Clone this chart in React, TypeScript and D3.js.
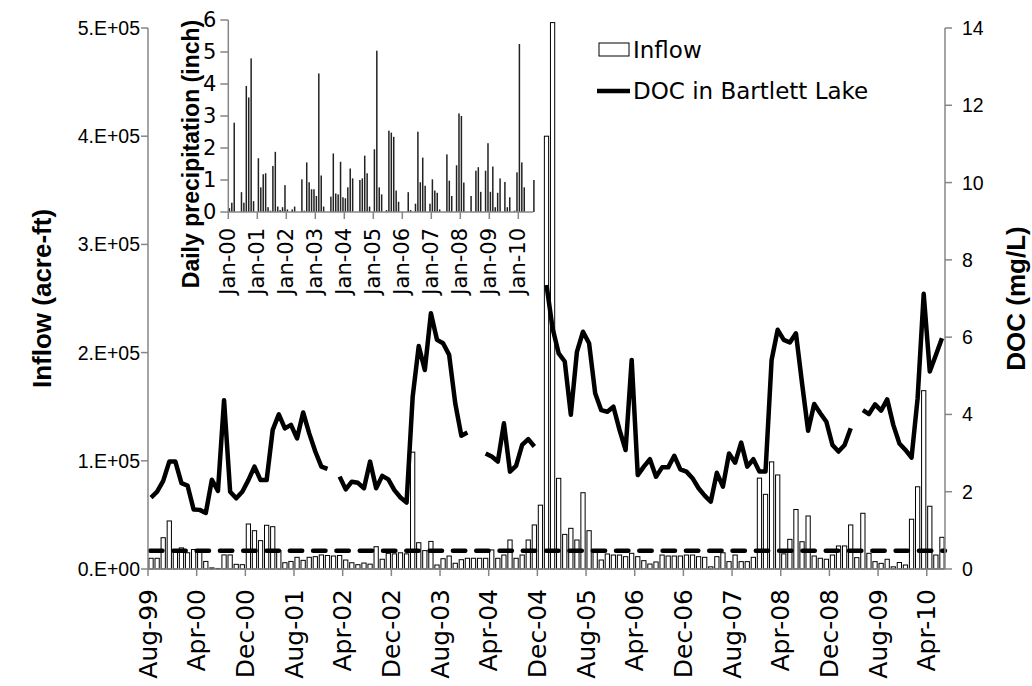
import React from "react";
import * as d3 from "d3";

const W = 1032;
const H = 686;

// ---------- main chart data (monthly, Aug-99 .. Jun-10) ----------
const monthStart = new Date(1999, 7, 1);
const monthEnd = new Date(2010, 6, 1);
const months = d3.timeMonth.range(monthStart, monthEnd);

const xTickLabels = [
  "Aug-99", "Apr-00", "Dec-00", "Aug-01", "Apr-02", "Dec-02", "Aug-03", "Apr-04",
  "Dec-04", "Aug-05", "Apr-06", "Dec-06", "Aug-07", "Apr-08", "Dec-08", "Aug-09", "Apr-10",
];

// Monthly inflow (acre-ft)
const inflow = [
  9900, 9900, 28900, 44400, 16000, 19500, 15000, 18000, 17000, 7000,
  1000, 500, 13000, 13000, 4300, 4000, 41600, 35400, 26200, 40400,
  39100, 17000, 5800, 7000, 10800, 8000, 10800, 11400, 13000, 12500,
  12000, 12500, 8300, 5800, 4000, 5500, 4500, 20600, 9000, 14500,
  14000, 15000, 14000, 108000, 24300, 17000, 25500, 3700, 9500, 12000,
  5300, 8600, 9900, 9900, 9900, 9900, 17600, 9900, 12900, 26800,
  9900, 12900, 26800, 40700, 59000, 400000, 505000, 83800, 32000, 37600,
  26800, 70500, 35400, 16000, 8300, 13900, 12900, 12900, 11400, 14500,
  11400, 7700, 4600, 6500, 12900, 12000, 12000, 12000, 12900, 12900,
  11400, 10800, 2000, 11400, 15000, 6800, 12900, 6800, 6800, 10800,
  84000, 69000, 99000, 86900, 14000, 27400, 55000, 25200, 49000, 12000,
  9900, 9000, 12900, 21300, 21300, 40700, 10500, 51500, 14500, 6800,
  5200, 9000, 2000, 6000, 3700, 46000, 76000, 164800, 58000, 12900,
  29300,
];

// Monthly DOC in Bartlett Lake (mg/L); null = no sample
const doc = [
  1.85, 2.0, 2.28, 2.78, 2.78, 2.22, 2.16, 1.54, 1.53, 1.45,
  2.31, 2.02, 4.37, 2.0, 1.83, 2.0, 2.3, 2.65, 2.3, 2.3,
  3.6, 4.0, 3.64, 3.73, 3.38, 4.05, 3.51, 3.04, 2.65, 2.59,
  null, 2.39, 2.06, 2.26, 2.23, 2.09, 2.78, 2.09, 2.41, 2.32,
  2.04, 1.85, 1.72, 4.45, 5.77, 5.15, 6.62, 5.93, 5.84, 5.54,
  4.29, 3.45, 3.53, null, null, 2.99, 2.91, 2.78, 3.77, 2.52,
  2.67, 3.21, 3.36, 3.17, null, 7.35, 6.23, 5.58, 5.37, 3.99,
  5.62, 6.14, 5.84, 4.55, 4.11, 4.07, 4.2, 3.6, 3.08, 5.41,
  2.43, 2.65, 2.84, 2.39, 2.63, 2.63, 2.93, 2.58, 2.52, 2.35,
  2.09, 1.9, 1.74, 2.49, 2.13, 2.99, 2.75, 3.27, 2.65, 2.84,
  2.52, 2.52, 5.41, 6.19, 5.93, 5.86, 6.1, 4.81, 3.58, 4.27,
  4.03, 3.81, 3.21, 3.04, 3.21, 3.64, null, 4.11, 4.01, 4.26,
  4.1, 4.39, 3.73, 3.25, 3.08, 2.88, 4.42, 7.12, 5.11, 5.54,
  5.97,
];

const docReference = 0.47; // dashed reference level (mg/L)

const leftTicks = [0, 100000, 200000, 300000, 400000, 500000];
const leftTickLabels = ["0.E+00", "1.E+05", "2.E+05", "3.E+05", "4.E+05", "5.E+05"];
const rightTicks = [0, 2, 4, 6, 8, 10, 12, 14];

// ---------- inset data (monthly, Jan-00 .. Jul-10) ----------
const precipStart = new Date(2000, 0, 1);
const precipEnd = new Date(2010, 7, 1);
const precipMonths = d3.timeMonth.range(precipStart, precipEnd);
const precip = [
  0.12, 0.29, 2.79, 0, 0, 0.62, 0.29, 3.94, 3.58, 4.8,
  0.34, 0, 1.68, 0.77, 1.18, 1.21, 0.15, 0.04, 1.44, 1.88,
  0.17, 0.06, 0.15, 0.84, 0.08, 0, 0.08, 0.17, 0, 0,
  1.02, 0.04, 1.55, 0.93, 0.71, 0.71, 0.5, 4.33, 1.14, 0.17,
  0, 0, 0.48, 1.83, 0.58, 0.55, 1.57, 0.46, 0.43, 0.77,
  1.36, 1.05, 0, 0, 1.0, 1.05, 1.76, 1.21, 0.17, 0,
  1.96, 5.04, 0.77, 0.55, 0, 0.06, 2.54, 2.48, 2.35, 0.67,
  0.32, 0, 0, 0, 0.62, 0.06, 0, 0.26, 2.51, 0.93,
  1.7, 0.82, 0, 0.26, 1.02, 0.67, 0.6, 0.08, 0, 0,
  1.8, 0.98, 0.5, 0, 1.46, 3.08, 3.0, 0.92, 0, 0,
  0.5, 0, 1.29, 1.4, 0.63, 0, 1.29, 2.15, 0.63, 1.42,
  0.15, 0.6, 1.05, 0, 0.94, 0.15, 0.46, 0, 0.04, 1.24,
  5.25, 1.55, 0.77, 0, 0, 0, 1.0,
];
const insetTicks = [0, 1, 2, 3, 4, 5, 6];
const insetTickLabels = ["Jan-00", "Jan-01", "Jan-02", "Jan-03", "Jan-04", "Jan-05", "Jan-06", "Jan-07", "Jan-08", "Jan-09", "Jan-10"];

const AXIS = "#868686";
const TICK_FONT = "'DejaVu Sans', sans-serif";
const NUM_FONT = "'Liberation Sans', Arial, sans-serif";
const TITLE_FONT = "'Liberation Sans', Arial, sans-serif";

export default function App() {
  // main scales
  const plot = { left: 148, right: 945, top: 28, bottom: 569 };
  const x = d3
    .scaleBand<number>()
    .domain(d3.range(months.length))
    .range([plot.left, plot.right])
    .paddingInner(0.3)
    .paddingOuter(0.15);
  const step = x.step();
  const edge = (i: number) => plot.left + i * step;
  const yL = d3.scaleLinear().domain([0, 500000]).range([plot.bottom, plot.top]);
  const yR = d3.scaleLinear().domain([0, 14]).range([plot.bottom, plot.top]);

  const line = d3
    .line<number | null>()
    .defined((d) => d !== null)
    .x((_, i) => (x(i) as number) + x.bandwidth() / 2)
    .y((d) => yR(d as number));

  const labelIndex = (lab: string) =>
    months.findIndex((m) => d3.timeFormat("%b-%y")(m) === lab);

  // inset scales
  const inset = { left: 228.3, right: 533.3, top: 20, bottom: 212 };
  const xi = d3.scaleLinear().domain([0, 126.2]).range([inset.left, inset.right]);
  const yi = d3.scaleLinear().domain([0, 6]).range([inset.bottom, inset.top]);
  const janIdx = insetTickLabels.map((lab) =>
    precipMonths.findIndex((m) => d3.timeFormat("%b-%y")(m) === lab)
  );

  return (
    <svg width={W} height={H} viewBox={`0 0 ${W} ${H}`} style={{ display: "block", position: "absolute", left: 0, top: 0, background: "#fff" }}>
      <rect x={0} y={0} width={W} height={H} fill="#fff" />

      {/* inflow bars */}
      {inflow.map((v, i) => {
        const top = Math.max(yL(v), plot.top - 6);
        return (
          <rect
            key={"b" + i}
            x={x(i)}
            y={top}
            width={x.bandwidth()}
            height={plot.bottom - top}
            fill="#fff"
            stroke="#000"
            strokeWidth={1}
          />
        );
      })}

      {/* dashed reference */}
      <line
        x1={plot.left + 2}
        x2={plot.right}
        y1={yR(docReference)}
        y2={yR(docReference)}
        stroke="#000"
        strokeWidth={4.5}
        strokeDasharray="12.4,10.9"
        strokeLinecap="round"
      />

      {/* DOC line */}
      <path d={line(doc) || ""} fill="none" stroke="#000" strokeWidth={4.5} strokeLinejoin="round" />

      {/* main axes */}
      <g stroke={AXIS} strokeWidth={1.5} fill="none">
        <line x1={plot.left} x2={plot.left} y1={plot.top} y2={plot.bottom} />
        <line x1={plot.right} x2={plot.right} y1={plot.top} y2={plot.bottom} />
        <line x1={plot.left} x2={plot.right} y1={plot.bottom} y2={plot.bottom} />
        {leftTicks.map((t) => (
          <line key={"lt" + t} x1={plot.left - 7} x2={plot.left} y1={yL(t)} y2={yL(t)} />
        ))}
        {rightTicks.map((t) => (
          <line key={"rt" + t} x1={plot.right} x2={plot.right + 7} y1={yR(t)} y2={yR(t)} />
        ))}
        {d3.range(0, months.length + 1, 8).map((i) => (
          <line key={"xt" + i} x1={edge(i)} x2={edge(i)} y1={plot.bottom} y2={plot.bottom + 7} />
        ))}
      </g>

      {/* tick labels */}
      <g fontFamily={NUM_FONT} fontSize={19.5} fill="#000">
        {leftTicks.map((t, k) => (
          <text key={"ll" + t} x={plot.left - 8} y={yL(t)} textAnchor="end" dominantBaseline="central">
            {leftTickLabels[k]}
          </text>
        ))}
        {rightTicks.map((t) => (
          <text key={"rl" + t} x={plot.right + 17} y={yR(t)} textAnchor="start" dominantBaseline="central">
            {t}
          </text>
        ))}
      </g>
      <g fontFamily={TICK_FONT} fontSize={25} fill="#000">
        {xTickLabels.map((lab) => {
          const i = labelIndex(lab);
          const px = edge(i);
          return (
            <text
              key={"xl" + lab}
              transform={`translate(${px},${plot.bottom + 20}) rotate(-90)`}
              textAnchor="end"
              dominantBaseline="central"
            >
              {lab}
            </text>
          );
        })}
      </g>

      {/* axis titles */}
      <text
        transform={`translate(42,${(plot.top + plot.bottom) / 2}) rotate(-90)`}
        textAnchor="middle"
        dominantBaseline="central"
        fontFamily={TITLE_FONT}
        fontWeight="bold"
        fontSize={26}
      >
        Inflow (acre-ft)
      </text>
      <text
        transform={`translate(1016,${(plot.top + plot.bottom) / 2}) rotate(-90)`}
        textAnchor="middle"
        dominantBaseline="central"
        fontFamily={TITLE_FONT}
        fontWeight="bold"
        fontSize={26}
      >
        DOC (mg/L)
      </text>

      {/* legend */}
      <rect x={599} y={43} width={30} height={13} fill="#fff" stroke="#000" strokeWidth={1} />
      <text x={633} y={50} dominantBaseline="central" fontFamily={TICK_FONT} fontSize={23}>
        Inflow
      </text>
      <line x1={597} x2={630} y1={91} y2={91} stroke="#000" strokeWidth={4.5} />
      <text x={633} y={91} dominantBaseline="central" fontFamily={TICK_FONT} fontSize={23}>
        DOC in Bartlett Lake
      </text>

      {/* inset: daily precipitation */}
      {precip.map((v, m) =>
        v > 0 ? (
          <rect
            key={"p" + m}
            x={xi(m + 0.45) - 0.75}
            y={yi(v)}
            width={1.5}
            height={inset.bottom - yi(v)}
            fill="#222"
          />
        ) : null
      )}
      <g stroke={AXIS} strokeWidth={1.5}>
        <line x1={inset.left} x2={inset.left} y1={inset.top} y2={inset.bottom} />
        <line x1={inset.left} x2={inset.right} y1={inset.bottom} y2={inset.bottom} />
        {insetTicks.map((t) => (
          <line key={"it" + t} x1={inset.left - 8} x2={inset.left} y1={yi(t)} y2={yi(t)} />
        ))}
        {janIdx.map((m) => (
          <line key={"ix" + m} x1={xi(m)} x2={xi(m)} y1={inset.bottom} y2={inset.bottom + 7} />
        ))}
      </g>
      <g fontFamily={TICK_FONT} fontSize={21} fill="#000">
        {insetTicks.map((t) => (
          <text key={"il" + t} x={inset.left - 12} y={yi(t)} textAnchor="end" dominantBaseline="central">
            {t}
          </text>
        ))}
        {insetTickLabels.map((lab, k) => (
          <text
            key={"ixl" + lab}
            transform={`translate(${xi(janIdx[k])},${inset.bottom + 16}) rotate(-90)`}
            textAnchor="end"
            dominantBaseline="central"
          >
            {lab}
          </text>
        ))}
      </g>
      <text
        transform={`translate(191,154) rotate(-90)`}
        textAnchor="middle"
        dominantBaseline="central"
        fontFamily={TITLE_FONT}
        fontWeight="bold"
        fontSize={23}
      >
        Daily precipitation (inch)
      </text>
    </svg>
  );
}
